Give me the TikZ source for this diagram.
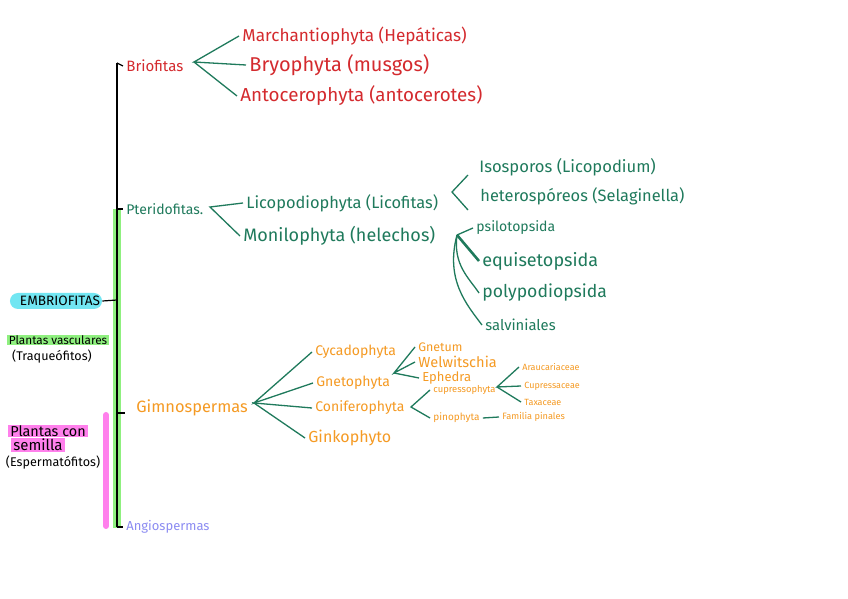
\documentclass[tikz,border=0pt]{standalone}
\usepackage{fontspec}
\setmainfont{Fira Sans}
\definecolor{bryored}{HTML}{D42A2E}
\definecolor{fernteal}{HTML}{1F7A5C}
\definecolor{gymorange}{HTML}{F59A23}
\definecolor{angblue}{HTML}{8C8CF2}
\definecolor{hlcyan}{HTML}{72E6F2}
\definecolor{hlgreen}{HTML}{8FF07F}
\definecolor{hlpink}{HTML}{FF80EC}
\newcommand{\fsz}[1]{\fontsize{#1}{#1}\selectfont}
\tikzset{
  px/.style={x=0.5pt, y=-0.5pt},
  t lbl/.style={anchor=west, inner sep=1.5pt},
  t red/.style={t lbl, text=bryored},
  t teal/.style={t lbl, text=fernteal},
  t org/.style={t lbl, text=gymorange},
  t side/.style={inner xsep=1pt, inner ysep=0.4pt, align=center},
  l fork/.style={draw=fernteal, line width=0.65pt},
  l spine/.style={line width=0.6pt, black},
}

\begin{document}
\begin{tikzpicture}[px]
\useasboundingbox[fill=white] (0,0) rectangle (848,599);
% main spine
\coordinate (s-top) at (117,63);
\coordinate (s-pte) at (117,209);
\coordinate (s-emb) at (117,300);
\coordinate (s-gim) at (117,413);
\coordinate (s-bot) at (117,527);
\draw[hlgreen, line width=4pt] (s-pte) -- (117,528);
\draw[hlpink, line width=3pt, line cap=round] (106,415) -- (106,526);
\draw[l spine] (s-top) -- (s-bot);
% left notes
\node[t side, fill=hlcyan, rounded corners=4pt, minimum width=44pt, minimum height=8pt, font=\fsz{6.8}] (emb) at (56,301) {\hspace{4pt}EMBRIOFITAS};
\node[t side, fill=hlgreen, font=\fsz{5.9}] (vas) at (58,340) {Plantas vasculares};
\node[t side, font=\fsz{6.3}] (tra) at (52,357) {(Traqueófitos)};
\node[t side, fill=hlpink, font=\fsz{7.2}] (pcs) at (48,431) {Plantas con};
\node[t side, fill=hlpink, minimum width=25pt, font=\fsz{7.5}] (sem) at (38,445) {semilla};
\node[t side, font=\fsz{6.3}] (esp) at (53,463) {(Espermatófitos)};
% spine labels
\node[t red, font=\fsz{7.5}] (bri) at (123,66) {Briofitas};
\node[t teal, font=\fsz{7}] (pte) at (123,209) {Pteridofitas.};
\node[t org, font=\fsz{8.2}] (gim) at (133,408) {Gimnospermas};
\node[t lbl, text=angblue, font=\fsz{6.5}] (ang) at (123,527) {Angiospermas};
\draw[l spine] (s-top) -- (bri.west);
\draw[l spine] (s-pte) -- ++(6,0);
\draw[l spine] (emb.east) -- (s-emb);
\draw[l spine] (s-gim) -- ++(8,0);
\draw[l spine] (s-bot) -- (ang.west);
% briofitas
\coordinate (v-bri) at (194,62);
\node[t red, font=\fsz{8.6}] (mar) at (239,36) {Marchantiophyta (Hepáticas)};
\node[t red, font=\fsz{10}] (bry) at (246,65) {Bryophyta (musgos)};
\node[t red, font=\fsz{9.4}] (ant) at (237,96) {Antocerophyta (antocerotes)};
\draw[l fork] (mar.west) -- (v-bri) -- (bry.west);
\draw[l fork] (v-bri) -- (ant.west);
% pteridofitas
\coordinate (v-pte) at (210,207);
\node[t teal, font=\fsz{8.2}] (lic) at (243,203) {Licopodiophyta (Licofitas)};
\node[t teal, font=\fsz{9}] (mon) at (240,236) {Monilophyta (helechos)};
\draw[l fork] (lic.west) -- (v-pte) -- (mon.west);
\coordinate (v-lic) at (452,192);
\coordinate (e-iso) at (468,175);
\coordinate (e-het) at (468,210);
\node[t teal, font=\fsz{8.3}] (iso) at (476,167) {Isosporos (Licopodium)};
\node[t teal, font=\fsz{8.2}] (het) at (477,196) {heterospóreos (Selaginella)};
\draw[l fork] (e-iso) -- (v-lic) -- (e-het);
\coordinate (v-mon) at (457,235);
\node[t teal, font=\fsz{7}] (psi) at (473,228) {psilotopsida};
\node[t teal, font=\fsz{9}] (equ) at (479,261) {equisetopsida};
\node[t teal, font=\fsz{8.8}] (pol) at (479,293) {polypodiopsida};
\node[t teal, font=\fsz{7.4}] (sal) at (482,325) {salviniales};
\draw[l fork] (v-mon) -- (psi.west);
\draw[l fork, line width=1.3pt] (v-mon) -- (equ.west);
\draw[l fork] (v-mon) .. controls +(-4,30) and +(-10,-15) .. (pol.west);
\draw[l fork] (v-mon) .. controls +(-12,45) and +(-15,-20) .. (sal.west);
% gimnospermas
\coordinate (v-gim) at (254,403);
\node[t org, font=\fsz{7}] (cyc) at (312,352) {Cycadophyta};
\node[t org, font=\fsz{7}] (gne) at (313,383) {Gnetophyta};
\node[t org, font=\fsz{7}] (con) at (312,408) {Coniferophyta};
\node[t org, font=\fsz{8}] (gin) at (305,438) {Ginkophyto};
\draw[l fork] (cyc.west) -- (v-gim) -- (gne.west);
\draw[l fork] (con.west) -- (v-gim) -- (gin.west);
\coordinate (v-gne) at (394,373);
\node[t org, font=\fsz{6.2}] (gnt) at (415,347) {Gnetum};
\node[t org, font=\fsz{7.3}] (wel) at (415,362) {Welwitschia};
\node[t org, font=\fsz{6.5}] (eph) at (419,378) {Ephedra};
\draw[l fork] (gnt.west) -- (v-gne) -- (wel.west);
\draw[l fork] (v-gne) -- (eph.west);
\coordinate (v-con) at (411,407);
\node[t org, font=\fsz{4.7}] (cup) at (430,390) {cupressophyta};
\node[t org, font=\fsz{5}] (pin) at (430,418) {pinophyta};
\draw[l fork] (cup.west) -- (v-con) -- (pin.west);
\coordinate (v-cup) at (497,387);
\node[t org, font=\fsz{4.5}] (ara) at (519,367) {Araucariaceae};
\node[t org, font=\fsz{4.5}] (cpr) at (521,386) {Cupressaceae};
\node[t org, font=\fsz{4.5}] (tax) at (521,402) {Taxaceae};
\draw[l fork] (ara.west) -- (v-cup) -- (cpr.west);
\draw[l fork] (v-cup) -- (tax.west);
\node[t org, font=\fsz{4.6}] (fam) at (499,417) {Familia pinales};
\draw[l fork] (pin.east) -- (fam.west);
\end{tikzpicture}
\end{document}
